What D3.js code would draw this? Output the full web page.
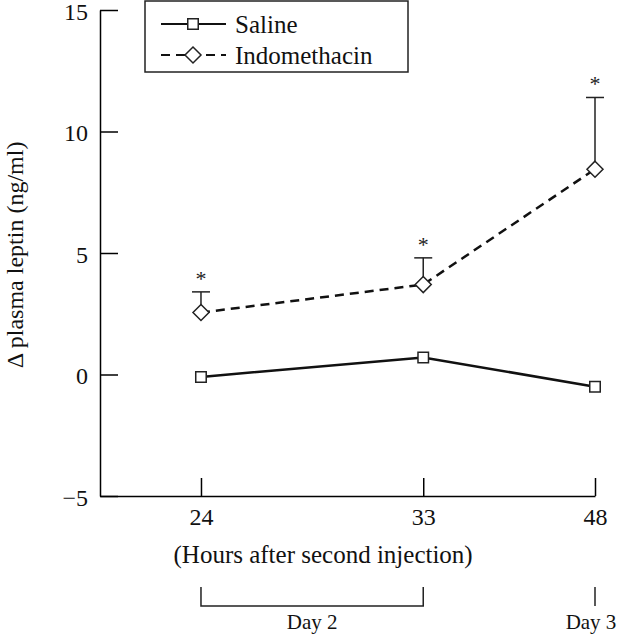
<!DOCTYPE html>
<html>
<head>
<meta charset="utf-8">
<script src="https://cdn.jsdelivr.net/npm/d3@7"></script>
<style>
  body { margin: 0; background: #fff; }
  svg { display: block; font-family: "Liberation Serif", "Times New Roman", serif; }
</style>
</head>
<body>
<div id="chart"></div>
<script>
// data
const hours = [24, 33, 48];
const saline = [-0.1, 0.7, -0.5];
const indomethacin = [2.55, 3.7, 8.45];
const indoErr = [0.85, 1.1, 2.95];
const yTicks = [-5, 0, 5, 10, 15];
const dayLabels = ['Day 2', 'Day 3'];

const width = 617, height = 639;
const margin = { left: 100, top: 10, right: 22, bottom: 143 };
const innerW = width - margin.left - margin.right;
const innerH = height - margin.top - margin.bottom;
const serif = '"Liberation Serif", "Times New Roman", serif';

const svg = d3.select('#chart').append('svg')
  .attr('width', width)
  .attr('height', height)
  .attr('font-family', serif);

const g = svg.append('g')
  .attr('transform', 'translate(' + margin.left + ',' + margin.top + ')');

// x positions in the original are not proportional to hours
const x = d3.scaleLinear()
  .domain([0, 24, 33, 48])
  .range([0, innerW * 0.204, innerW * 0.653, innerW]);

const y = d3.scaleLinear()
  .domain([-5, 15])
  .range([innerH, 0]);

// y axis, ticks pointing into the plot
const yAxis = g.append('g')
  .call(d3.axisRight(y).tickValues(yTicks).tickSize(18).tickSizeOuter(0)
    .tickFormat(d => d < 0 ? '\u2212' + Math.abs(d) : d));
yAxis.attr('font-family', serif);
yAxis.select('.domain').attr('stroke-width', 1.5);
yAxis.selectAll('.tick line').attr('stroke-width', 1.5);
yAxis.selectAll('.tick text')
  .attr('x', -12)
  .attr('dy', '0.38em')
  .attr('text-anchor', 'end')
  .attr('font-size', 24)
  .attr('fill', '#111');

// x axis, ticks pointing up
const xAxis = g.append('g')
  .attr('transform', 'translate(0,' + innerH + ')')
  .call(d3.axisTop(x).tickValues(hours).tickSize(18).tickSizeOuter(0));
xAxis.attr('font-family', serif);
xAxis.select('.domain').attr('stroke-width', 1.5);
xAxis.selectAll('.tick line').attr('stroke-width', 1.5);
xAxis.selectAll('.tick text')
  .attr('y', 12)
  .attr('dy', '0.71em')
  .attr('font-size', 24)
  .attr('fill', '#111');

// axis titles
g.append('text')
  .attr('x', (x(24) + x(33)) / 2 + 11)
  .attr('y', innerH + 67)
  .attr('text-anchor', 'middle')
  .attr('font-size', 25)
  .attr('fill', '#111')
  .text('(Hours after second injection)');

svg.append('text')
  .attr('transform', 'translate(23,255) rotate(-90)')
  .attr('text-anchor', 'middle')
  .attr('font-size', 24)
  .attr('fill', '#111')
  .text('\u0394 plasma leptin (ng/ml)');

// day brackets
const bTop = innerH + 91, bBot = innerH + 110;
g.append('path')
  .attr('d', 'M' + x(24) + ',' + bTop + 'V' + bBot + 'H' + x(33) + 'V' + bTop)
  .attr('fill', 'none')
  .attr('stroke', '#222')
  .attr('stroke-width', 1.5);
g.append('line')
  .attr('x1', x(48)).attr('x2', x(48))
  .attr('y1', bTop).attr('y2', bBot)
  .attr('stroke', '#222')
  .attr('stroke-width', 1.5);
g.selectAll('.day')
  .data(dayLabels)
  .join('text')
  .attr('class', 'day')
  .attr('x', (d, i) => i === 0 ? (x(24) + x(33)) / 2 : x(48) - 4)
  .attr('y', innerH + 133)
  .attr('text-anchor', 'middle')
  .attr('font-size', 21)
  .attr('fill', '#111')
  .text(d => d);

// series
const line = d3.line().x(d => x(d[0])).y(d => y(d[1]));
const salPts = hours.map((h, i) => [h, saline[i]]);
const indoPts = hours.map((h, i) => [h, indomethacin[i]]);

// error bars (upper only)
g.selectAll('.err')
  .data(indoPts)
  .join('g')
  .attr('class', 'err')
  .each(function (d, i) {
    const e = d3.select(this);
    const top = y(d[1] + indoErr[i]);
    e.append('line')
      .attr('x1', x(d[0])).attr('x2', x(d[0]))
      .attr('y1', y(d[1])).attr('y2', top)
      .attr('stroke', '#222').attr('stroke-width', 1.5);
    e.append('line')
      .attr('x1', x(d[0]) - 9).attr('x2', x(d[0]) + 9)
      .attr('y1', top).attr('y2', top)
      .attr('stroke', '#222').attr('stroke-width', 1.5);
    e.append('text')
      .attr('x', x(d[0]))
      .attr('y', top - 6)
      .attr('text-anchor', 'middle')
      .attr('font-size', 22)
      .attr('fill', '#222')
      .text('*');
  });

g.append('path')
  .datum(salPts)
  .attr('d', line)
  .attr('fill', 'none')
  .attr('stroke', '#111')
  .attr('stroke-width', 2.5);

g.append('path')
  .datum(indoPts)
  .attr('d', line)
  .attr('fill', 'none')
  .attr('stroke', '#111')
  .attr('stroke-width', 2.5)
  .attr('stroke-dasharray', '9,6');

const square = d3.symbol().type(d3.symbolSquare).size(110);
const diamond = 'M0,-8L8,0L0,8L-8,0Z';

g.selectAll('.sq')
  .data(salPts)
  .join('path')
  .attr('class', 'sq')
  .attr('d', square)
  .attr('transform', d => 'translate(' + x(d[0]) + ',' + y(d[1]) + ')')
  .attr('fill', '#fff')
  .attr('stroke', '#222')
  .attr('stroke-width', 1.5);

g.selectAll('.dm')
  .data(indoPts)
  .join('path')
  .attr('class', 'dm')
  .attr('d', diamond)
  .attr('transform', d => 'translate(' + x(d[0]) + ',' + y(d[1]) + ')')
  .attr('fill', '#fff')
  .attr('stroke', '#222')
  .attr('stroke-width', 1.5);

// legend
const leg = svg.append('g').attr('transform', 'translate(145,1)');
leg.append('rect')
  .attr('width', 263).attr('height', 71)
  .attr('fill', '#fff')
  .attr('stroke', '#222')
  .attr('stroke-width', 1.5);
const items = [
  { name: 'Saline', dash: null, mark: square(), y: 23 },
  { name: 'Indomethacin', dash: '9,6', mark: diamond, y: 54 }
];
items.forEach(it => {
  leg.append('line')
    .attr('x1', 16).attr('x2', 81)
    .attr('y1', it.y).attr('y2', it.y)
    .attr('stroke', '#111')
    .attr('stroke-width', 2)
    .attr('stroke-dasharray', it.dash);
  leg.append('path')
    .attr('d', it.mark)
    .attr('transform', 'translate(48,' + it.y + ')')
    .attr('fill', '#fff')
    .attr('stroke', '#222')
    .attr('stroke-width', 1.5);
  leg.append('text')
    .attr('x', 90)
    .attr('y', it.y)
    .attr('dy', '0.35em')
    .attr('font-size', 25)
    .attr('fill', '#111')
    .text(it.name);
});
</script>
</body>
</html>
